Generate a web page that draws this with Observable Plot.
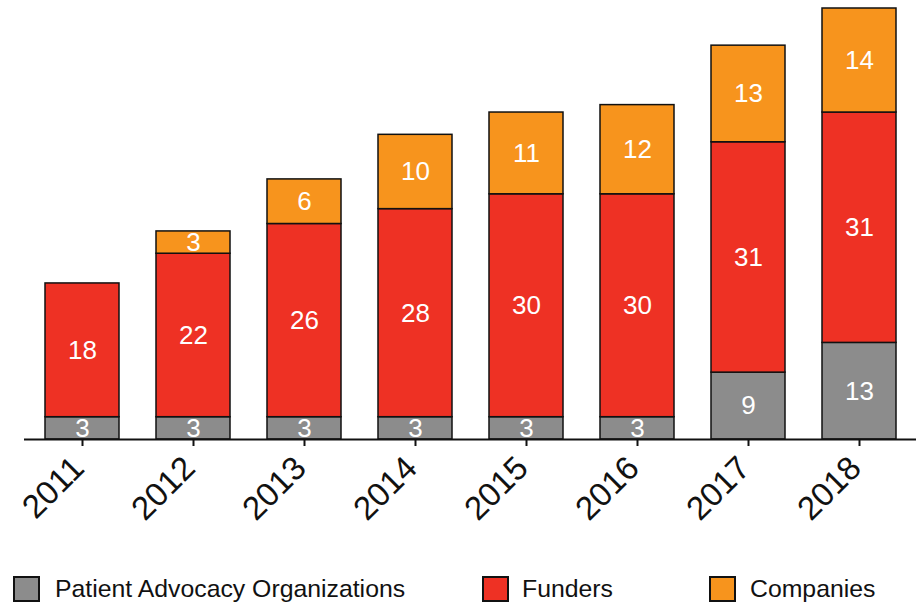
<!DOCTYPE html>
<html>
<head>
<meta charset="utf-8">
<script src="https://cdn.jsdelivr.net/npm/d3@7"></script>
<script src="https://cdn.jsdelivr.net/npm/@observablehq/plot@0.6"></script>
<style>
  body { margin: 0; background: #fff; font-family: "Liberation Sans", Arial, sans-serif; }
  #chart { width: 922px; height: 560px; }
  .legend { position: relative; height: 43px; width: 922px; font-size: 24.8px; color: #111; }
  .legend .item { position: absolute; top: 15px; display: flex; align-items: center; height: 28px; }
  .legend .sw { width: 27px; height: 26px; border: 2px solid #111; box-sizing: border-box; }
</style>
</head>
<body>
<div id="chart"></div>
<script>
const years = ["2011", "2012", "2013", "2014", "2015", "2016", "2017", "2018"];
const series = ["Patient Advocacy Organizations", "Funders", "Companies"];
const patientAdvocacy = [3, 3, 3, 3, 3, 3, 9, 13];
const funders = [18, 22, 26, 28, 30, 30, 31, 31];
const companies = [0, 3, 6, 10, 11, 12, 13, 14];
const colors = ["#8c8c8c", "#ee3124", "#f7941d"];

const valuesBySeries = [patientAdvocacy, funders, companies];
const data = [];
years.forEach((yr, i) => {
  series.forEach((s, j) => {
    const v = valuesBySeries[j][i];
    if (v > 0) data.push({year: yr, series: s, value: v});
  });
});

const chart = Plot.plot({
  width: 922,
  height: 560,
  marginTop: 8,
  marginBottom: 121,
  marginLeft: 24,
  marginRight: 6,
  style: {fontFamily: "'Liberation Sans', Arial, sans-serif", background: "#fff"},
  x: {domain: years, paddingInner: 0.336, paddingOuter: 0.17, label: null, axis: null},
  y: {domain: [0, 58], axis: null},
  color: {domain: series, range: colors},
  marks: [
    Plot.barY(data, {x: "year", y: "value", fill: "series", stroke: "#111", strokeWidth: 1.5, order: series}),
    Plot.text(data, Plot.stackY({x: "year", y: "value", z: "series", order: series, text: d => String(d.value), fill: "white", fontSize: 26})),
    Plot.ruleY([0], {stroke: "#111", strokeWidth: 2}),
    Plot.axisX({tickSize: 7, tickFormat: () => "", label: null, stroke: "#111", strokeWidth: 2}),
    Plot.axisX({tickSize: 0, tickRotate: -45, fontSize: 33, tickPadding: 23, dx: -4, label: null, color: "#111"})
  ]
});
document.getElementById("chart").appendChild(chart);

const legend = document.createElement("div");
legend.className = "legend";
const swatchX = [13, 482, 709];
const textX = [55, 522, 750];
series.forEach((s, j) => {
  const sw = document.createElement("div");
  sw.className = "item";
  sw.style.left = swatchX[j] + "px";
  const box = document.createElement("div");
  box.className = "sw";
  box.style.background = colors[j];
  sw.appendChild(box);
  legend.appendChild(sw);
  const item = document.createElement("div");
  item.className = "item";
  item.style.left = textX[j] + "px";
  const lab = document.createElement("span");
  lab.textContent = s;
  item.appendChild(lab);
  legend.appendChild(item);
});
document.body.appendChild(legend);
</script>
</body>
</html>
